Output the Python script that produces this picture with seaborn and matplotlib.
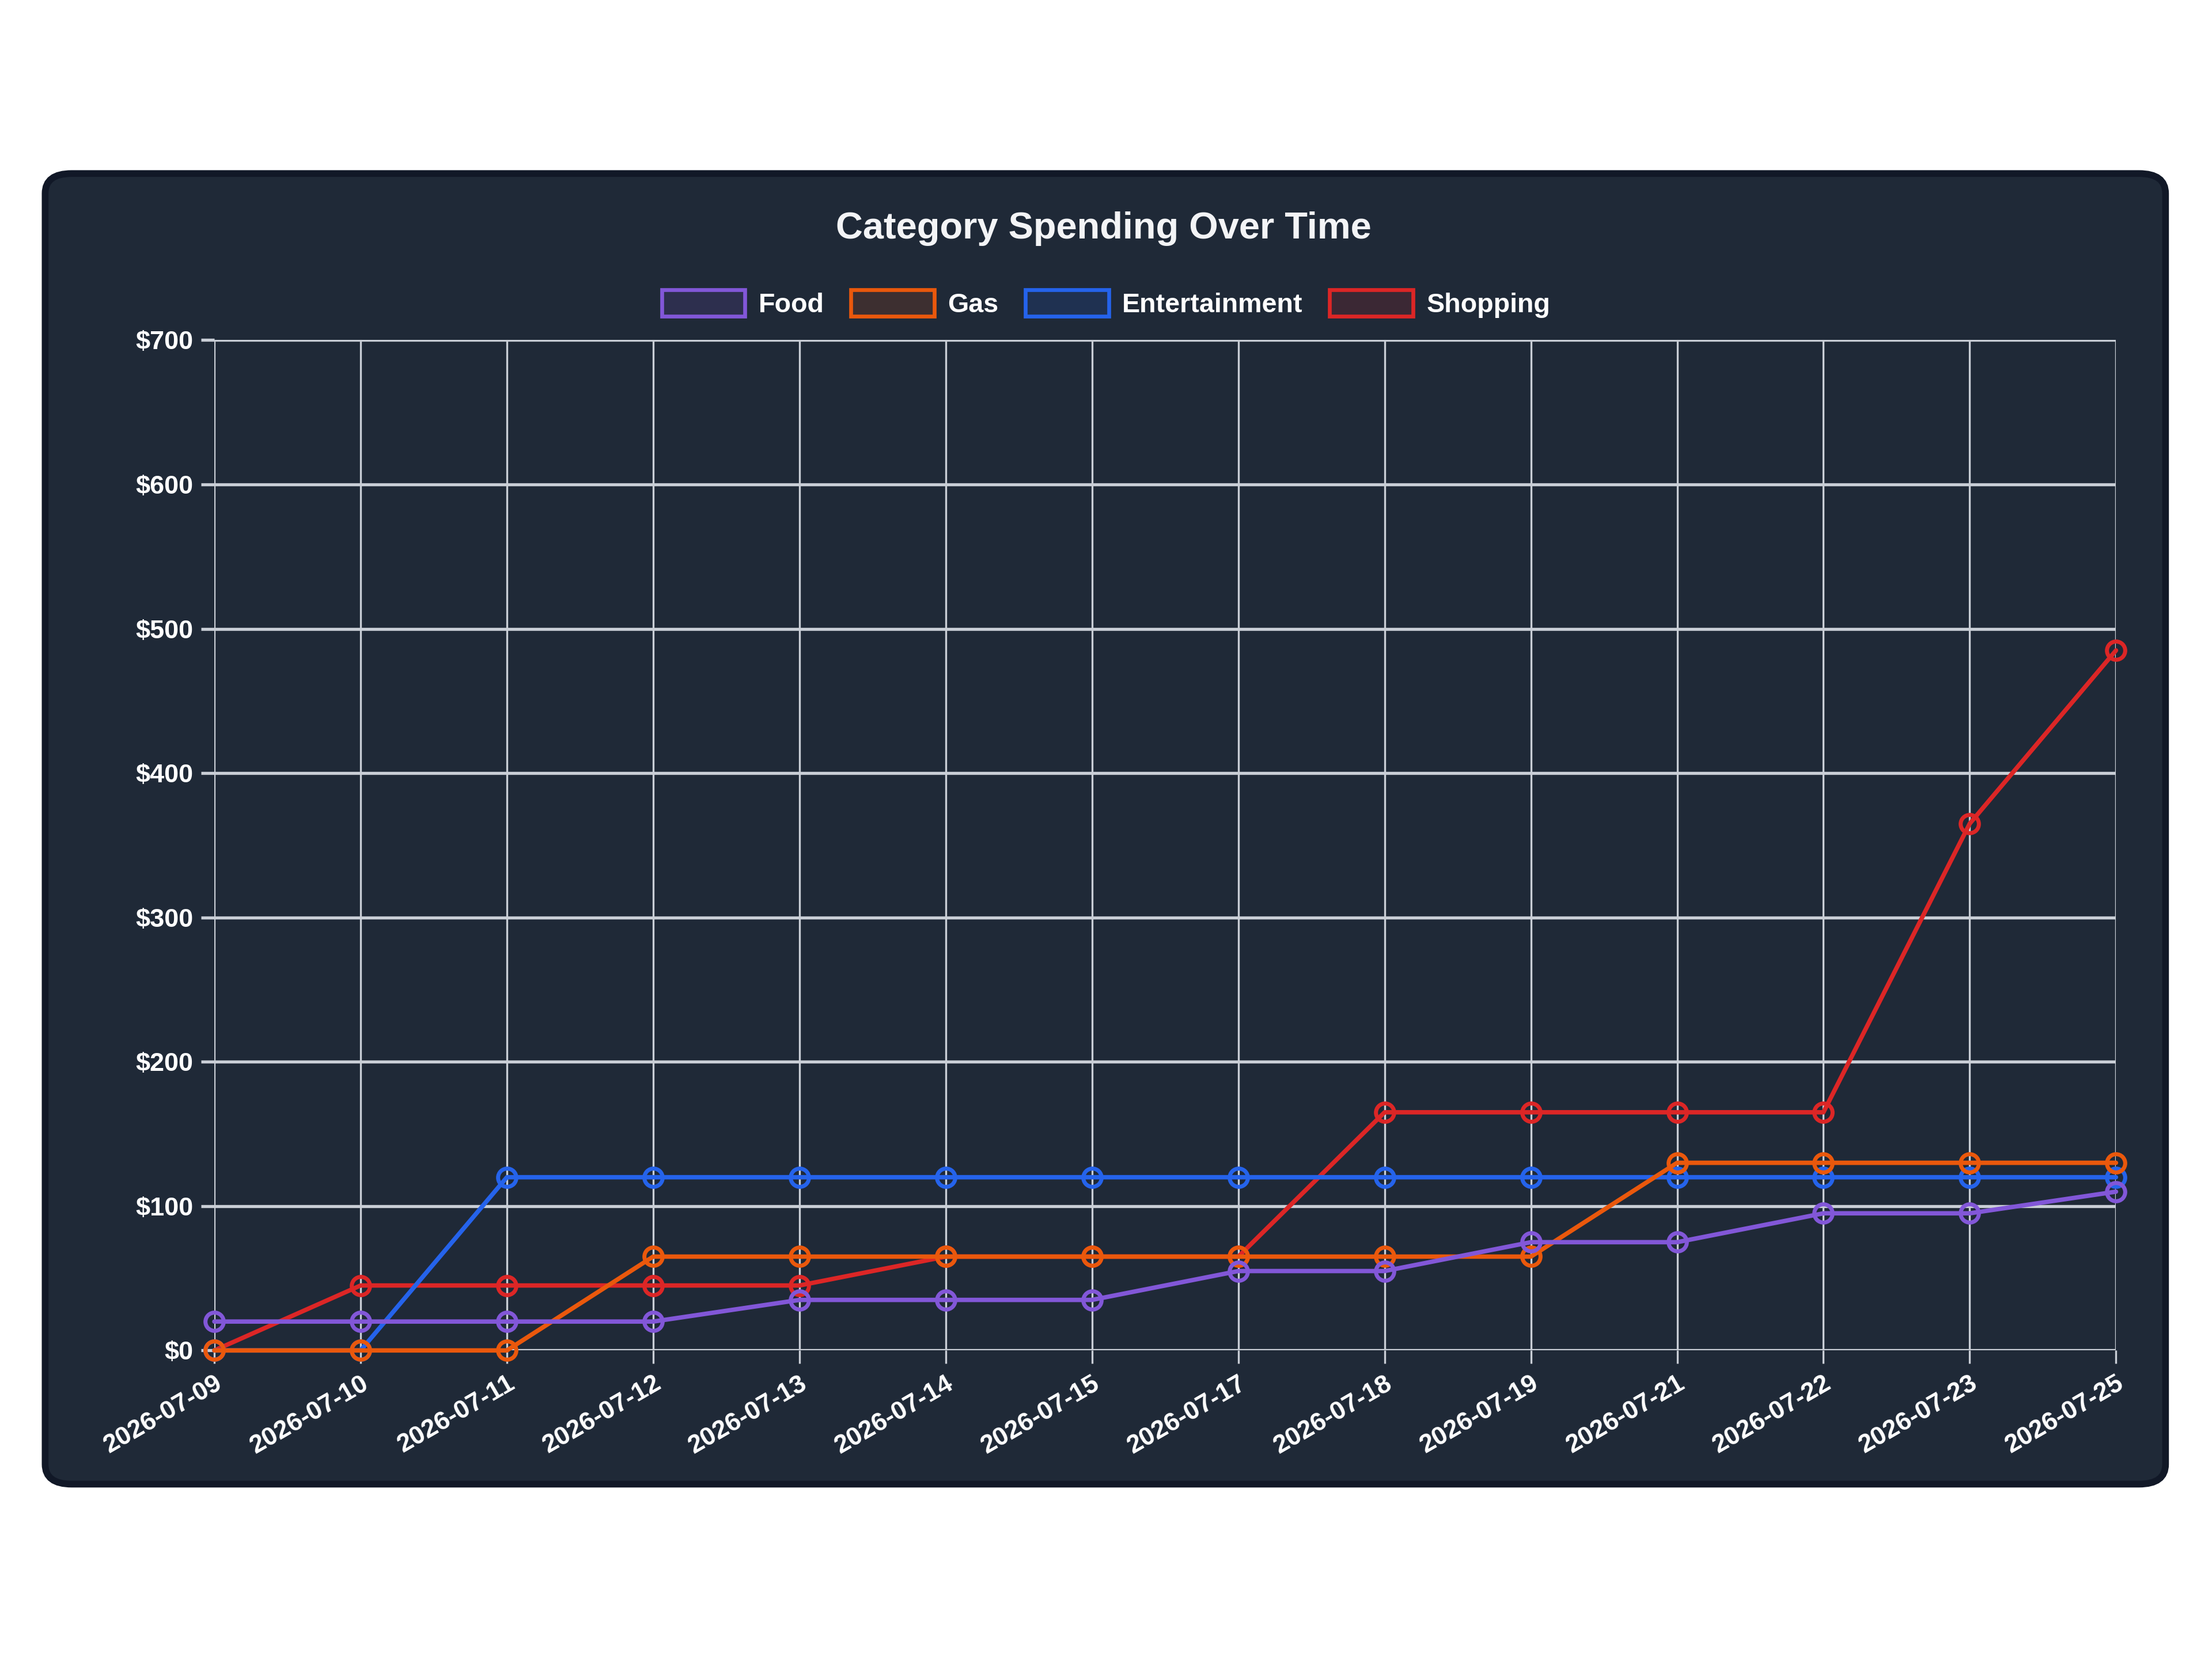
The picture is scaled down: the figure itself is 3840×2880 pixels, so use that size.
import numpy as np
import pandas as pd
import matplotlib
matplotlib.use("Agg")
import matplotlib.pyplot as plt
from matplotlib.patches import FancyBboxPatch, Patch
from matplotlib.colors import to_rgba
import seaborn as sns

# data
dates = ["2026-07-09", "2026-07-10", "2026-07-11", "2026-07-12", "2026-07-13",
         "2026-07-14", "2026-07-15", "2026-07-17", "2026-07-18", "2026-07-19",
         "2026-07-21", "2026-07-22", "2026-07-23", "2026-07-25"]
food = [20, 20, 20, 20, 35, 35, 35, 55, 55, 75, 75, 95, 95, 110]
gas = [0, 0, 0, 65, 65, 65, 65, 65, 65, 65, 130, 130, 130, 130]
entertainment = [0, 0, 120, 120, 120, 120, 120, 120, 120, 120, 120, 120, 120, 120]
shopping = [0, 45, 45, 45, 45, 65, 65, 65, 165, 165, 165, 165, 365, 485]

categories = ["Food", "Gas", "Entertainment", "Shopping"]
series = [food, gas, entertainment, shopping]
colors = ["#8257d8", "#ea580c", "#2563eb", "#dc2626"]

y_ticks = [0, 100, 200, 300, 400, 500, 600, 700]

card_bg = "#1f2937"
grid_col = "#c9ced6"
txt_col = "#ffffff"

sns.set_theme(style="dark")
plt.rcParams["font.family"] = ["Liberation Sans", "DejaVu Sans"]

fig = plt.figure(figsize=(16, 12), dpi=240)
fig.patch.set_facecolor("white")

# dark rounded card behind the axes
card = FancyBboxPatch((0.0204, 0.1054), 0.9586, 0.790,
                      boxstyle="round,pad=0,rounding_size=0.012",
                      transform=fig.transFigure, facecolor=card_bg,
                      edgecolor="#111827", linewidth=3.5, zorder=-1)
fig.patches.append(card)

ax = fig.add_axes([0.0969, 0.186, 0.8597, 0.609])
ax.set_facecolor(card_bg)
ax.set_zorder(1)

rows = []
for name, vals in zip(categories, series):
    for i, v in enumerate(vals):
        rows.append({"idx": i, "value": v, "category": name})
df = pd.DataFrame(rows)

# first series sits on top, like the original
for k, (name, col) in enumerate(zip(categories, colors)):
    sub = df[df["category"] == name]
    sns.lineplot(data=sub, x="idx", y="value", ax=ax, color=col, linewidth=2.3,
                 marker="o", markersize=9.5, markerfacecolor="none",
                 markeredgecolor=col, markeredgewidth=2.1, zorder=10 - k,
                 clip_on=False)

ax.set_xlim(0, len(dates) - 1)
ax.set_ylim(0, 700)
ax.set_xticks(range(len(dates)))
ax.set_xticklabels(dates, rotation=30, ha="right", rotation_mode="anchor",
                   fontsize=13.5, fontweight="bold", color=txt_col)
ax.set_yticks(y_ticks)
ax.set_yticklabels([f"${v}" for v in y_ticks], fontsize=13.5,
                   fontweight="bold", color=txt_col)
ax.set_xlabel("")
ax.set_ylabel("")

ax.grid(True, axis="x", color=grid_col, linewidth=1.0)
ax.grid(True, axis="y", color=grid_col, linewidth=1.6)
ax.set_axisbelow(True)
for s in ax.spines.values():
    s.set_visible(False)
ax.tick_params(axis="both", which="major", length=7, width=1.0,
               color=grid_col, pad=4, bottom=True, left=True)
ax.tick_params(axis="y", width=1.6)

fig.text(0.499, 0.862, "Category Spending Over Time", ha="center", va="center",
         fontsize=19.5, fontweight="bold", color="#f3f4f6")

handles = [Patch(facecolor=to_rgba(c, 0.15), edgecolor=c, linewidth=2.0, label=n)
           for n, c in zip(categories, colors)]
leg = fig.legend(handles=handles, loc="center", bbox_to_anchor=(0.5, 0.817),
                 ncol=4, frameon=False, handlelength=3.1, handleheight=1.15,
                 handletextpad=0.5, columnspacing=1.0,
                 prop={"weight": "bold", "size": 14})
for t in leg.get_texts():
    t.set_color(txt_col)

fig.savefig("out.png", dpi=240, facecolor=fig.get_facecolor())
